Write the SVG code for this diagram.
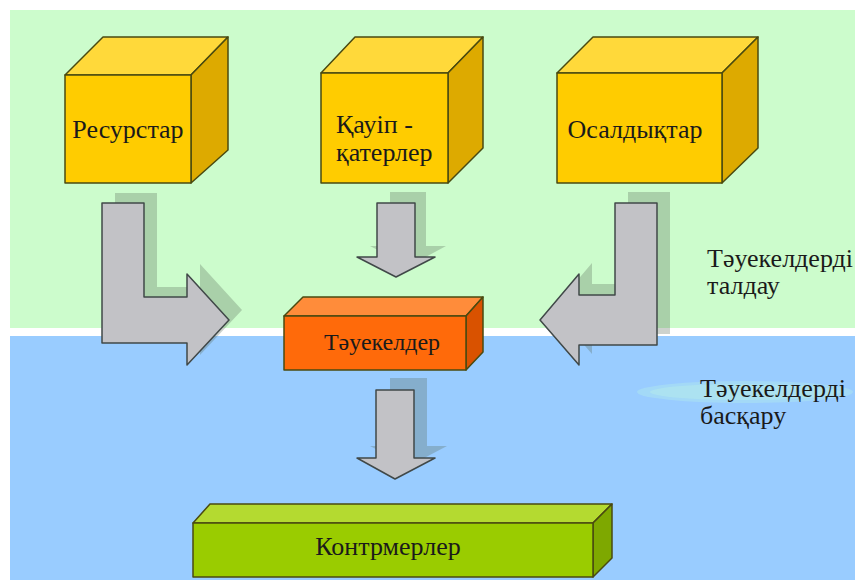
<svg xmlns="http://www.w3.org/2000/svg" width="855" height="580" viewBox="0 0 855 580">
<rect x="0" y="0" width="855" height="580" fill="#ffffff"/>
<rect x="10" y="10" width="845" height="318" fill="#CCFCCC"/>
<rect x="10" y="336" width="845" height="244" fill="#99CCFF"/>
<ellipse cx="745" cy="392" rx="108" ry="11" fill="#B8F0E8" opacity="0.35"/>
<ellipse cx="745" cy="392" rx="95" ry="8" fill="#B8F0E8" opacity="0.4"/>

<g id="connectors" stroke-linejoin="round">
<g fill="#5a6a5a" opacity="0.3">
<polygon points="115,193 157,193 157,287 200,287 200,264 242,310 200,355 200,333 115,333"/>
<polygon points="628,192 670,192 670,334 592,334 592,354 553,309 592,263 592,284 628,284"/>
<polygon points="390,192 426,192 426,246 446,246 409,266 370,246 390,246"/>
<polygon points="390,378 427,378 427,446 447,446 409,466 370,446 390,446"/>
</g>
<g fill="#C2C2C6" stroke="#404848" stroke-width="1.5">
<polygon points="102,203 144,203 144,297 187,297 187,274 229,320 187,365 187,343 102,343"/>
<polygon points="615,203 657,203 657,345 579,345 579,365 540,320 579,274 579,295 615,295"/>
<polygon points="377,203 415,203 415,257 435,257 396,277 357,257 377,257"/>
<polygon points="376,390 414,390 414,458 435,458 395,479 357,458 376,458"/>
</g>
</g>

<g id="resurstar" stroke="#4a4a10" stroke-width="1.5" stroke-linejoin="round">
<polygon fill="#FFD93A" points="65,75 103,37 228,37 191,75"/>
<polygon fill="#DDAA00" points="191,75 228,37 228,150 191,183"/>
<rect fill="#FFCC00" x="65" y="75" width="126" height="108"/>
<text stroke="none" fill="#1a1a1a" font-size="26" font-family="Liberation Serif" x="128" y="138" text-anchor="middle">Ресурстар</text>
</g>

<g id="qauip" stroke="#4a4a10" stroke-width="1.5" stroke-linejoin="round">
<polygon fill="#FFD93A" points="321,73 355,37 483,37 448,73"/>
<polygon fill="#DDAA00" points="448,73 483,37 483,148 448,183"/>
<rect fill="#FFCC00" x="321" y="73" width="127" height="110"/>
<text stroke="none" fill="#1a1a1a" font-size="26" font-family="Liberation Serif" x="336" y="133">Қауіп -</text>
<text stroke="none" fill="#1a1a1a" font-size="26" font-family="Liberation Serif" x="336" y="161">қатерлер</text>
</g>

<g id="osaldyqtar" stroke="#4a4a10" stroke-width="1.5" stroke-linejoin="round">
<polygon fill="#FFD93A" points="557,73 593,37 758,37 722,73"/>
<polygon fill="#DDAA00" points="722,73 758,37 758,148 722,183"/>
<rect fill="#FFCC00" x="557" y="73" width="165" height="110"/>
<text stroke="none" fill="#1a1a1a" font-size="26" font-family="Liberation Serif" x="635" y="138" text-anchor="middle">Осалдықтар</text>
</g>

<g id="taueke" stroke="#4a4a10" stroke-width="1.5" stroke-linejoin="round">
<polygon fill="#FF8C3A" points="284,316 303,297 483,297 466,316"/>
<polygon fill="#D95200" points="466,316 483,297 483,352 466,370"/>
<rect fill="#FF6A0A" x="284" y="316" width="182" height="54"/>
<text stroke="none" fill="#1a1a1a" font-size="24" font-family="Liberation Serif" x="382" y="350" text-anchor="middle">Тәуекелдер</text>
</g>

<g id="kontr" stroke="#4a4a10" stroke-width="1.5" stroke-linejoin="round">
<polygon fill="#B4DA30" points="193,523 210,504 612,504 593,523"/>
<polygon fill="#7EA800" points="593,523 612,504 612,558 593,577"/>
<rect fill="#9ACC00" x="193" y="523" width="400" height="54"/>
<text stroke="none" fill="#1a1a1a" font-size="26" font-family="Liberation Serif" x="388" y="555" text-anchor="middle">Контрмерлер</text>
</g>

<g id="label-talday" fill="#1a1a1a" font-size="26" font-family="Liberation Serif">
<text x="707" y="267">Тәуекелдерді</text>
<text x="707" y="294">талдау</text>
</g>
<g id="label-basqaru" fill="#1a1a1a" font-size="26" font-family="Liberation Serif">
<text x="700" y="397">Тәуекелдерді</text>
<text x="700" y="424">басқару</text>
</g>
</svg>
